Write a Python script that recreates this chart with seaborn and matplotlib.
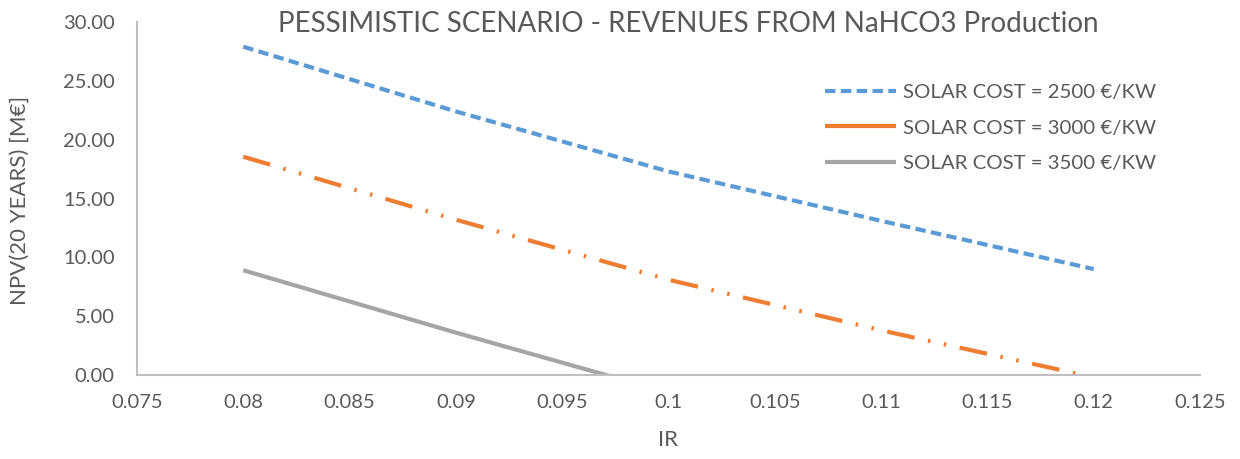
import matplotlib
matplotlib.use("Agg")
import matplotlib.pyplot as plt
from matplotlib.lines import Line2D
import seaborn as sns
import pandas as pd

# ---- data ----
ir = [0.08, 0.09, 0.10, 0.11, 0.12]
npv_2500 = [27.9, 22.4, 17.3, 13.1, 9.0]
npv_3000 = [18.55, 13.2, 8.1, 3.8, -0.2]
ir_3500 = [0.08, 0.09, 0.10]
npv_3500 = [8.9, 3.6, -1.5]
series_labels = ["SOLAR COST = 2500 €/KW", "SOLAR COST = 3000 €/KW", "SOLAR COST = 3500 €/KW"]
x_ticks = [0.075, 0.08, 0.085, 0.09, 0.095, 0.1, 0.105, 0.11, 0.115, 0.12, 0.125]
x_tick_labels = ["0.075", "0.08", "0.085", "0.09", "0.095", "0.1", "0.105", "0.11", "0.115", "0.12", "0.125"]
y_ticks = [0, 5, 10, 15, 20, 25, 30]
title = "PESSIMISTIC SCENARIO - REVENUES FROM NaHCO3 Production"
x_label = "IR"
y_label = "NPV(20 YEARS) [M€]"

sns.set_theme(style="white")
plt.rcParams["font.family"] = ["Lato", "DejaVu Sans"]

TEXT = "#595959"
AXIS = "#BFBFBF"
BLUE = "#5B9BD5"
ORANGE = "#ED7D31"
GRAY = "#A5A5A5"

W, H = 1240, 459
fig = plt.figure(figsize=(W / 100, H / 100), dpi=100)
ax = fig.add_axes([137 / W, 1 - 375 / H, (1200 - 137) / W, (375 - 22) / H])

d1 = pd.DataFrame({"IR": ir, "NPV": npv_2500})
d2 = pd.DataFrame({"IR": ir, "NPV": npv_3000})
d3 = pd.DataFrame({"IR": ir_3500, "NPV": npv_3500})

sns.lineplot(data=d1, x="IR", y="NPV", ax=ax, color=BLUE, lw=3.0)
sns.lineplot(data=d2, x="IR", y="NPV", ax=ax, color=ORANGE, lw=3.0)
sns.lineplot(data=d3, x="IR", y="NPV", ax=ax, color=GRAY, lw=3.0)

l1, l2, l3 = ax.lines[:3]
l1.set_dashes((2.5, 1.3))
l1.set_dash_capstyle("butt")
l2.set_dashes((6.7, 3.3, 0.6, 3.3, 0.6, 3.3))
l2.set_dash_capstyle("butt")
l3.set_solid_capstyle("butt")

ax.set_xlim(0.075, 0.125)
ax.set_ylim(0, 30)
ax.set_xticks(x_ticks)
ax.set_xticklabels(x_tick_labels)
ax.set_yticks(y_ticks)
ax.set_yticklabels([f"{v:.2f}" for v in y_ticks])

for s in ["top", "right"]:
    ax.spines[s].set_visible(False)
for s in ["left", "bottom"]:
    ax.spines[s].set_color(AXIS)
    ax.spines[s].set_linewidth(1.5)

ax.tick_params(axis="both", which="major", direction="out", length=5, width=1.2,
               color=AXIS, labelcolor=TEXT, labelsize=14.5)
ax.tick_params(axis="y", pad=11)
ax.tick_params(axis="x", pad=9)
ax.grid(False)
ax.set_xlabel("")
ax.set_ylabel("")

fig.text(668 / W, 1 - 440 / H, x_label, ha="center", va="center", color=TEXT, fontsize=16)
fig.text(20 / W, 1 - 200 / H, y_label, ha="center", va="center", rotation=90,
         color=TEXT, fontsize=16)
fig.text(688 / W, 1 - 24 / H, title, ha="center", va="center", color=TEXT, fontsize=20)

handles = [
    Line2D([], [], color=BLUE, lw=3.0, dashes=(2.5, 1.3), dash_capstyle="butt"),
    Line2D([], [], color=ORANGE, lw=3.0, solid_capstyle="butt"),
    Line2D([], [], color=GRAY, lw=3.0, solid_capstyle="butt"),
]
leg = ax.legend(handles, series_labels, loc="upper left",
                bbox_to_anchor=((825 - 137) / (1200 - 137), 1 - (84 - 22) / (375 - 22)),
                frameon=False, fontsize=14.7, handlelength=3.5, handletextpad=0.3,
                labelspacing=0.88, borderaxespad=0, borderpad=0)
for t in leg.get_texts():
    t.set_color(TEXT)

fig.savefig("out.png", dpi=100)
